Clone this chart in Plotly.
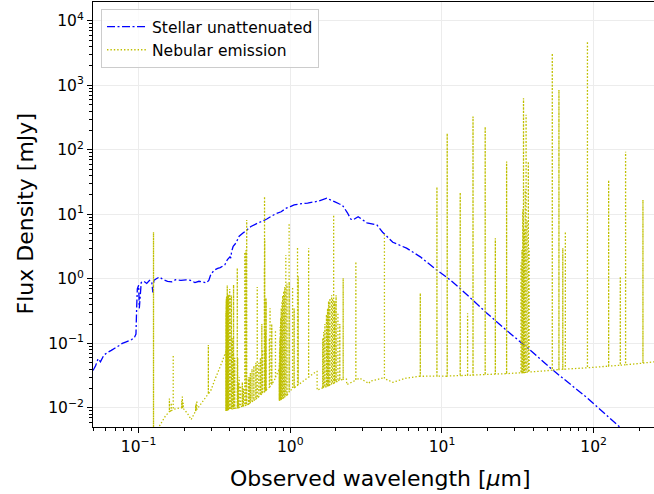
import math
import plotly.graph_objects as go

# ---------------- data ----------------
stellar_wl = [0.050, 0.052, 0.054, 0.056, 0.059, 0.062, 0.066, 0.070, 0.074, 0.078,
              0.082, 0.086, 0.090, 0.094, 0.096, 0.097, 0.098, 0.100, 0.101, 0.104,
              0.108, 0.113, 0.118, 0.122, 0.124, 0.126, 0.130, 0.137, 0.145, 0.155,
              0.165, 0.175, 0.190, 0.205, 0.220, 0.235, 0.250, 0.265, 0.280, 0.290,
              0.300, 0.317, 0.332, 0.345, 0.370, 0.385, 0.400, 0.405, 0.410, 0.420,
              0.438, 0.460, 0.485, 0.520, 0.550, 0.600, 0.640, 0.700, 0.740, 0.800,
              0.870, 0.940, 1.000, 1.060, 1.150, 1.300, 1.520, 1.740, 1.970, 2.110,
              2.200, 2.380, 2.500, 2.580, 2.800, 3.200, 3.720, 4.060, 4.740, 5.840,
              7.200, 9.200, 10.90, 13.10, 19.60, 26.60, 36.10, 53.60, 90.40, 148.0, 160.0]
stellar_flux = [0.038, 0.045, 0.058, 0.052, 0.066, 0.072, 0.078, 0.085, 0.092, 0.100,
                0.105, 0.110, 0.115, 0.125, 0.140, 0.350, 0.700, 0.800, 0.350, 0.880,
                0.920, 0.850, 0.950, 0.900, 0.620, 0.950, 1.000, 1.070, 0.980, 0.920,
                0.900, 0.970, 0.950, 0.970, 0.950, 0.880, 0.920, 0.900, 0.870, 0.950,
                1.200, 1.380, 1.460, 1.500, 1.650, 2.000, 2.200, 2.100, 2.650, 3.200,
                3.600, 4.600, 5.100, 5.800, 6.500, 7.200, 7.700, 8.500, 9.200, 10.20,
                11.00, 12.50, 13.20, 14.00, 14.50, 15.00, 16.00, 17.80, 15.60, 14.50,
                14.00, 10.60, 8.500, 8.200, 9.200, 7.400, 6.900, 5.300, 3.700, 3.000,
                2.200, 1.380, 1.040, 0.720, 0.300, 0.160, 0.088, 0.039, 0.0144, 0.0051, 0.0044]

neb_cont_wl = [0.120, 0.131, 0.1375, 0.150, 0.168, 0.185, 0.196, 0.210, 0.222, 0.246,
               0.279, 0.300, 0.317, 0.332, 0.355, 0.3755, 0.3757, 0.450, 0.520, 0.600,
               0.700, 0.800, 0.8445, 0.8455, 0.950, 1.030, 1.340, 1.490, 1.501, 1.503,
               1.810, 2.100, 2.300, 2.345, 2.355, 2.860, 3.300, 3.360, 4.060, 4.740,
               5.800, 7.100, 10.70, 19.50, 32.00, 44.00, 60.00, 104.0, 160.0, 250.0]
neb_cont_flux = [0.0015, 0.0040, 0.0053, 0.0075, 0.0093, 0.0100, 0.0100, 0.0082, 0.0066, 0.0100,
                 0.0150, 0.0190, 0.0270, 0.0350, 0.0520, 0.0750, 0.0092, 0.0100, 0.0113, 0.0140,
                 0.0195, 0.0300, 0.0400, 0.0130, 0.0158, 0.0200, 0.0310, 0.0370, 0.0370, 0.0190,
                 0.0230, 0.0270, 0.0280, 0.0280, 0.0230, 0.0290, 0.0240, 0.0260, 0.0290, 0.0250,
                 0.0290, 0.0310, 0.0310, 0.0330, 0.0350, 0.0370, 0.0395, 0.0430, 0.0465, 0.0520]

line_wl = [0.1253, 0.1595, 0.1640, 0.1690, 0.1925, 0.1942, 0.1966, 0.2375, 0.2396, 0.2420,
           0.2882,
           0.3762, 0.3770, 0.3778, 0.3786, 0.3794, 0.3803, 0.3815, 0.3827, 0.3839, 0.3846,
           0.3863, 0.3884, 0.3912, 0.3950, 0.3985, 0.4006, 0.4089, 0.4160, 0.4225, 0.4300,
           0.4470, 0.4494, 0.4550, 0.4605, 0.4700, 0.4826, 0.4900, 0.5007, 0.5108, 0.5157,
           0.5300, 0.5356, 0.5450, 0.5590, 0.5750, 0.5928, 0.6052, 0.6200, 0.6350, 0.6489,
           0.6555, 0.6745, 0.6760, 0.6782, 0.6878, 0.6918, 0.6933, 0.7277, 0.7350, 0.7540,
           0.7550, 0.7980,
           0.8460, 0.8490, 0.8530, 0.8580, 0.8640, 0.8710, 0.8800, 0.8910, 0.9040, 0.9200,
           0.9340, 0.9506, 0.9818, 0.9832, 1.0350, 1.0600, 1.1155, 1.1270, 1.3203,
           1.6360, 1.6590, 1.6900, 1.7315, 1.7600, 1.7880, 1.8250, 1.8720, 1.9000, 1.9310,
           1.9600, 2.0035, 2.0600, 2.1200, 2.2310,
           2.7050, 4.1730, 7.1950, 9.2610, 10.825, 13.190, 14.750, 16.020, 19.270, 22.480,
           26.670, 33.200, 33.700, 34.100, 34.480, 34.900, 35.400, 35.850, 36.400, 37.090,
           37.600, 53.360, 59.040, 62.600, 65.080, 91.010, 125.60, 149.90, 162.40, 211.40]
line_peak = [5.3, 0.014, 0.012, 0.066, 0.013, 0.015, 0.012, 0.011, 0.012, 0.013,
             0.095,
             0.30, 0.40, 0.46, 0.50, 0.52, 0.54, 0.55, 0.55, 0.80, 0.56,
             0.56, 0.57, 0.56, 0.58, 0.70, 0.55, 0.56, 0.12, 0.81, 0.06,
             1.48, 0.06, 0.025, 0.030, 0.022, 0.025, 0.020, 2.6, 2.8, 8.2,
             0.030, 0.030, 0.035, 0.040, 0.045, 0.050, 0.75, 0.050, 0.060, 0.20,
             0.08, 1.5, 18.9, 4.0, 0.15, 0.50, 0.45, 0.12, 0.35, 0.20,
             0.18, 0.16,
             0.05, 0.08, 0.12, 0.18, 0.25, 0.35, 0.45, 0.55, 0.65, 0.75,
             2.35, 0.85, 7.3, 0.9, 0.75, 0.35, 3.1, 1.1, 3.0,
             0.12, 0.15, 0.20, 0.28, 0.35, 0.45, 0.50, 0.56, 0.50, 9.8,
             0.45, 0.56, 0.30, 0.20, 1.03,
             1.85, 5.1, 0.60, 26.7, 180.0, 21.8, 0.294, 328.0, 229.0, 4.27,
             66.0, 1.8, 2.8, 12.0, 630.0, 6.0, 25.0, 349.0, 8.0, 66.0,
             3.0, 3130.0, 850.0, 3.0, 5.4, 4790.0, 34.0, 1.09, 94.0, 16.8]
line_base = [0.0022, 0.0088, 0.0091, 0.0095, 0.0100, 0.0100, 0.0099, 0.0090, 0.0092, 0.0095,
             0.0165,
             0.0092, 0.0092, 0.0092, 0.0092, 0.0093, 0.0093, 0.0093, 0.0093, 0.0093, 0.0093,
             0.0094, 0.0094, 0.0094, 0.0095, 0.0095, 0.0095, 0.0096, 0.0097, 0.0098, 0.0099,
             0.0100, 0.0100, 0.0100, 0.0102, 0.0104, 0.0106, 0.0107, 0.0108, 0.0110, 0.0111,
             0.0114, 0.0116, 0.0120, 0.0125, 0.0131, 0.0138, 0.0143, 0.0150, 0.0158, 0.0165,
             0.0168, 0.0178, 0.0178, 0.0180, 0.0185, 0.0187, 0.0188, 0.0210, 0.0215, 0.0230,
             0.0232, 0.0290,
             0.0130, 0.0131, 0.0132, 0.0133, 0.0134, 0.0136, 0.0138, 0.0141, 0.0144, 0.0148,
             0.0152, 0.0158, 0.0175, 0.0176, 0.0200, 0.0205, 0.0225, 0.0228, 0.0300,
             0.0205, 0.0208, 0.0210, 0.0215, 0.0218, 0.0222, 0.0226, 0.0233, 0.0238, 0.0242,
             0.0246, 0.0252, 0.0260, 0.0268, 0.0278,
             0.0270, 0.0285, 0.0310, 0.0312, 0.0313, 0.0318, 0.0320, 0.0323, 0.0330, 0.0335,
             0.0340, 0.0350, 0.0351, 0.0352, 0.0353, 0.0354, 0.0356, 0.0357, 0.0358, 0.0360,
             0.0361, 0.0385, 0.0395, 0.0398, 0.0400, 0.0420, 0.0445, 0.0460, 0.0468, 0.0495]

x_tick_vals = [0.1, 1, 10, 100]
x_tick_text = ["10<sup>\u22121</sup>", "10<sup>0</sup>", "10<sup>1</sup>", "10<sup>2</sup>"]
y_tick_vals = [0.01, 0.1, 1, 10, 100, 1000, 10000]
y_tick_text = ["10<sup>\u22122</sup>", "10<sup>\u22121</sup>", "10<sup>0</sup>", "10<sup>1</sup>",
               "10<sup>2</sup>", "10<sup>3</sup>", "10<sup>4</sup>"]

# ---------------- assemble nebular spectrum ----------------
items = [(w, 0, [(w, f)]) for w, f in zip(neb_cont_wl, neb_cont_flux)]
items += [(w, 1, [(w, b), (w, p), (w, b)]) for w, p, b in zip(line_wl, line_peak, line_base)]
items.sort(key=lambda t: (t[0], t[1]))
neb_x, neb_y = [], []
for _, _, pts in items:
    for px, py in pts:
        neb_x.append(px)
        neb_y.append(py)

minor_vals = [m * 10.0 ** d for d in range(-3, 5) for m in range(2, 10)]

font_family = "DejaVu Sans"
tick_size = 15.5

fig = go.Figure()
fig.add_trace(go.Scatter(
    x=stellar_wl, y=stellar_flux, mode="lines", name="Stellar unattenuated",
    line=dict(color="#0000ff", width=1.3, dash="8px,2.5px,2px,2.5px", simplify=False)))
fig.add_trace(go.Scatter(
    x=neb_x, y=neb_y, mode="lines", name="Nebular emission",
    line=dict(color="#bfbf00", width=1.3, dash="1.4px,2px", simplify=False)))

axis_common = dict(
    type="log", showline=True, linecolor="black", linewidth=1,
    ticks="outside", ticklen=5, tickwidth=1, tickcolor="black",
    showgrid=True, gridcolor="#ececec", gridwidth=1, zeroline=False,
    tickfont=dict(family=font_family, size=tick_size, color="black"),
    minor=dict(tickvals=minor_vals, ticks="outside", ticklen=3, tickwidth=0.8,
               tickcolor="black", showgrid=False),
)

fig.update_xaxes(range=[math.log10(0.05), math.log10(250)], tickvals=x_tick_vals,
                 ticktext=x_tick_text, mirror=True, **axis_common)
fig.update_yaxes(range=[math.log10(0.00507), math.log10(19600)], tickvals=y_tick_vals,
                 ticktext=y_tick_text, mirror=False, **axis_common)

fig.update_layout(
    width=654, height=494,
    margin=dict(l=93, r=0, t=2, b=67),
    paper_bgcolor="white", plot_bgcolor="white",
    font=dict(family=font_family, color="black"),
    showlegend=True,
    legend=dict(x=0.0143, y=0.9835, xanchor="left", yanchor="top",
                bgcolor="rgba(255,255,255,0.8)", bordercolor="#cccccc", borderwidth=1,
                font=dict(family=font_family, size=tick_size, color="black"),
                itemwidth=40),
    annotations=[
        dict(text="Observed wavelength [<i>\u03bc</i>m]", xref="paper", yref="paper",
             x=(380 - 93) / 561, y=(427 - 478) / 425, xanchor="center", yanchor="middle",
             showarrow=False, font=dict(family=font_family, size=22, color="black")),
        dict(text="Flux Density [mJy]", xref="paper", yref="paper",
             x=(25 - 93) / 561, y=0.5, xanchor="center", yanchor="middle", textangle=-90,
             showarrow=False, font=dict(family=font_family, size=22, color="black")),
    ],
)

fig.write_html("out.html", config={"displayModeBar": False},
               post_script="document.body.style.margin='0';")
